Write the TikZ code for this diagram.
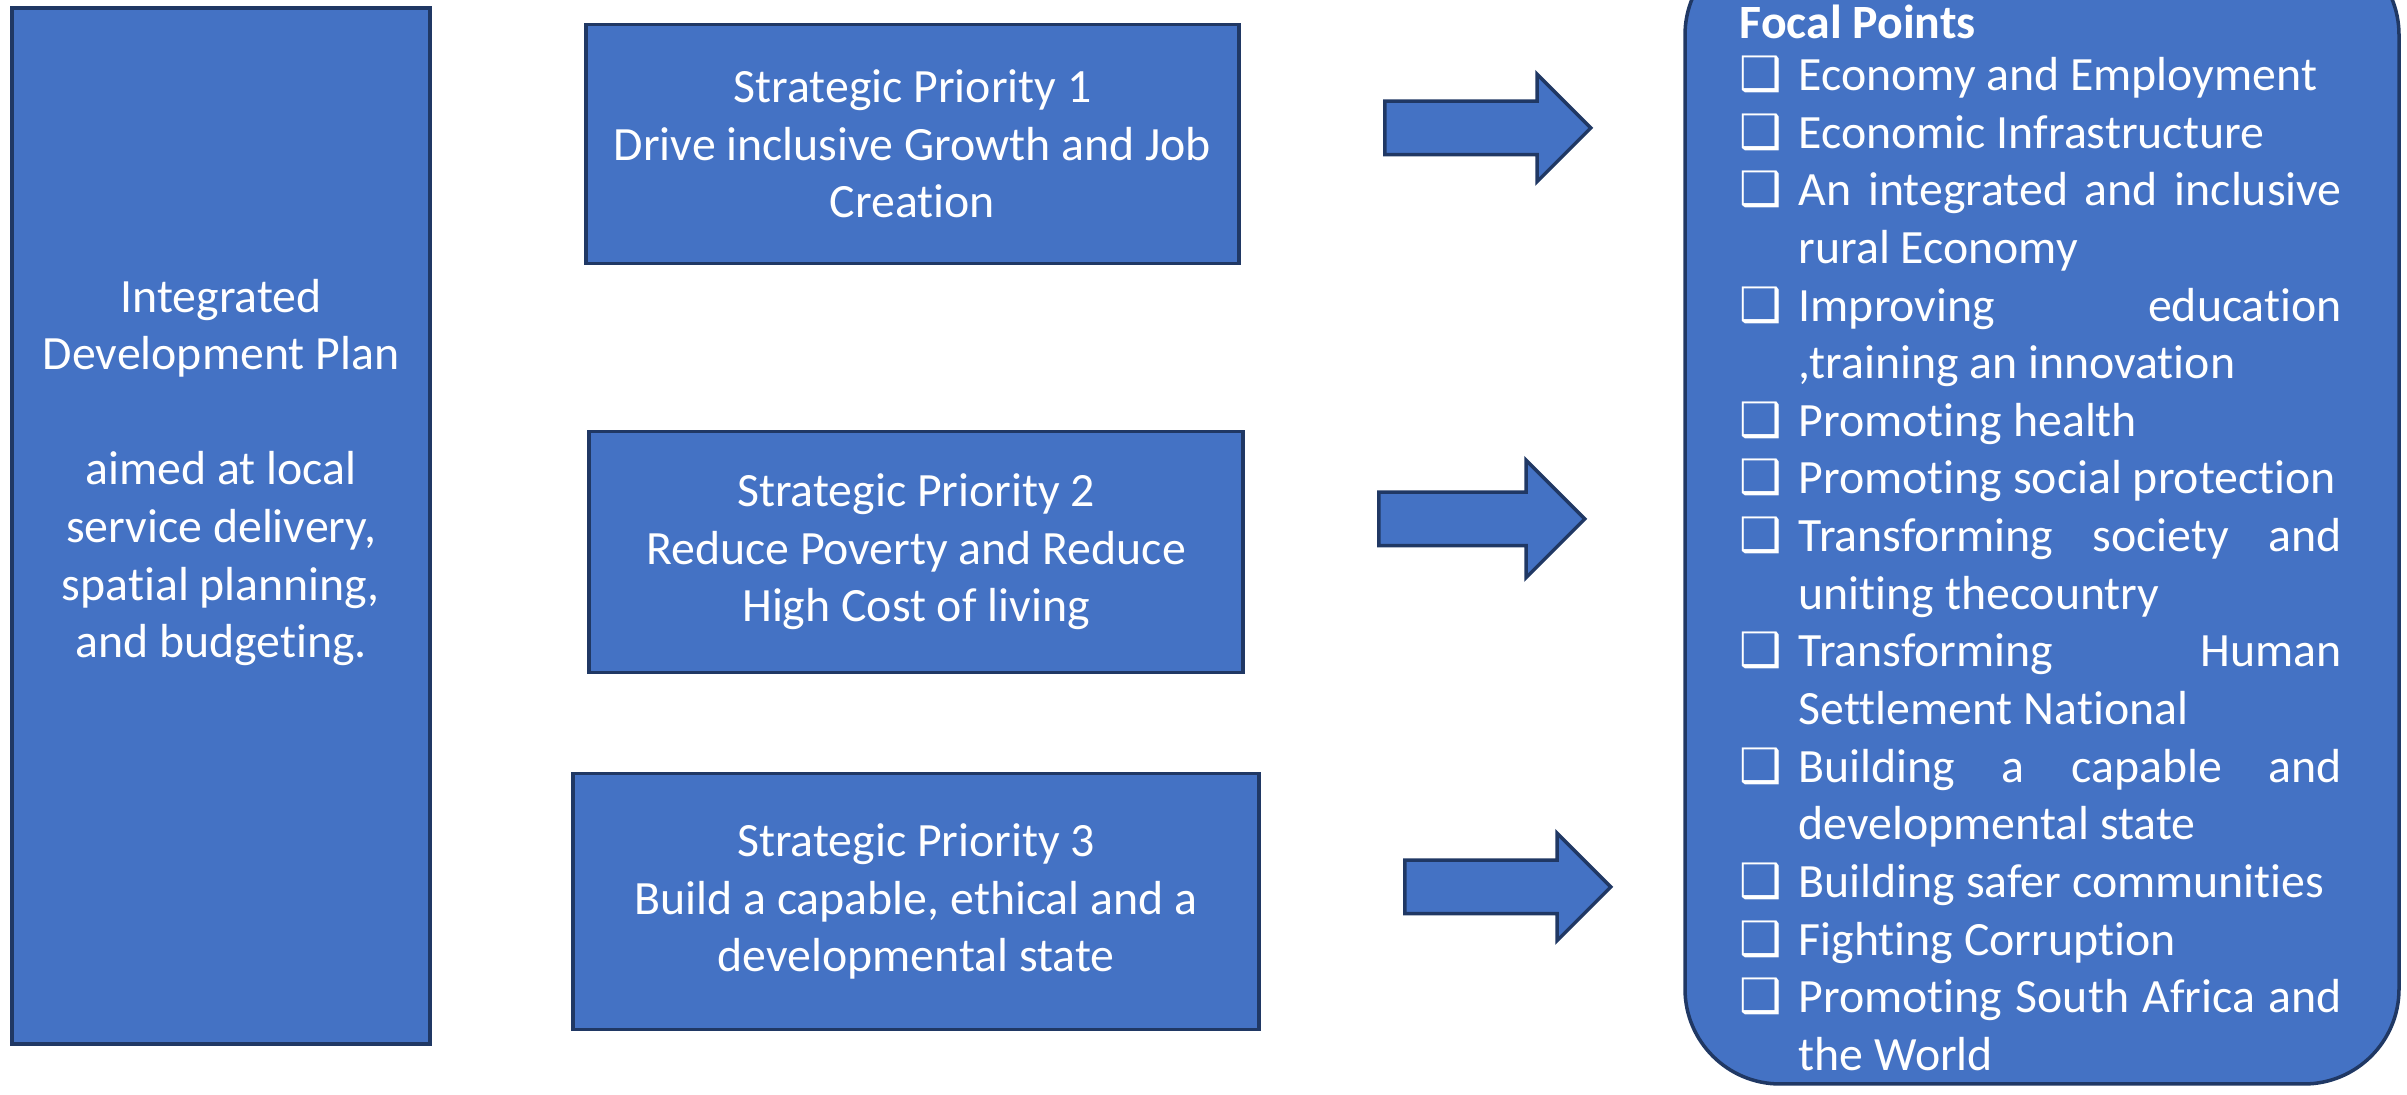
\documentclass[tikz,border=0pt]{standalone}
\usepackage{fontspec}
\setmainfont{Carlito}[Ligatures={NoCommon,NoContextual}, RawFeature={-liga;-calt;-dlig;-clig}]
\newfontfamily\boxfont{DejaVu Sans}
\usetikzlibrary{shapes.arrows}
\definecolor{planblue}{HTML}{4472C4}
\definecolor{planedge}{HTML}{203864}
\tikzset{
  blk/.style={draw=planedge, fill=planblue, line width=1pt, text=white, align=center,
    font=\fontsize{13.6}{16.4}\selectfont, inner sep=0pt},
  blkarrow/.style={single arrow, draw=planedge, fill=planblue, line width=1pt,
    inner xsep=0pt, inner ysep=0.25cm, single arrow head extend=0.27cm, minimum height=2.06cm}
}
\newcommand\fpitem[1]{\par\noindent\hangindent=0.59cm\hangafter=1%
  \makebox[0.59cm][l]{\boxfont\fontsize{13.5}{16.4}\selectfont ❑}#1}
\begin{document}
\begin{tikzpicture}
            \useasboundingbox (0,0) rectangle (24.07,10.95);
            \node[blk, minimum width=4.18cm, minimum height=10.36cm] (idp) at (2.21, 5.69)
               {Integrated\\Development Plan\\ \mbox{}\\aimed at local\\service delivery,\\spatial planning,\\and budgeting.\\ \mbox{}\\ \mbox{}};
            \node[blk, minimum width=6.53cm, minimum height=2.39cm] (sp1) at (9.125, 9.51)
               {Strategic Priority 1\\Drive inclusive Growth and Job\\Creation};
            \node[blk, minimum width=6.54cm, minimum height=2.41cm] (sp2) at (9.16, 5.43)
               {Strategic Priority 2\\Reduce Poverty and Reduce\\High Cost of living};
            \node[blk, minimum width=6.86cm, minimum height=2.56cm] (sp3) at (9.16, 1.935)
               {Strategic Priority 3\\Build a capable, ethical and a\\developmental state};
            \node[blkarrow, anchor=tail] (ar1) at (13.83, 9.67) {};
            \node[blkarrow, anchor=tail, single arrow head extend=0.32cm] (ar2) at (13.77, 5.76) {};
            \node[blkarrow, anchor=tail] (ar3) at (14.03, 2.08) {};
            \node[blk, rounded corners=0.95cm, minimum width=7.14cm, minimum height=11.44cm] (focal) at (20.42, 5.83) {};
            \node[anchor=base west, text=white, inner sep=0pt, font=\fontsize{13.6}{16.4}\selectfont] (fplist) at (17.39, 10.565)
               {\begin{minipage}[t]{6.02cm}
               \textbf{Focal Points}\par\vspace{-1.6pt}
               \fpitem{Economy and Employment}
               \fpitem{Economic Infrastructure}
               \fpitem{An integrated and inclusive\linebreak rural Economy}
               \fpitem{Improving education\linebreak ,training an innovation}
               \fpitem{Promoting health}
               \fpitem{Promoting social protection}
               \fpitem{Transforming society and\linebreak uniting thecountry}
               \fpitem{Transforming Human\linebreak Settlement National}
               \fpitem{Building a capable and\linebreak developmental state}
               \fpitem{Building safer communities}
               \fpitem{Fighting Corruption}
               \fpitem{Promoting South Africa and\linebreak the World}
               \end{minipage}};
         \end{tikzpicture}
\end{document}
